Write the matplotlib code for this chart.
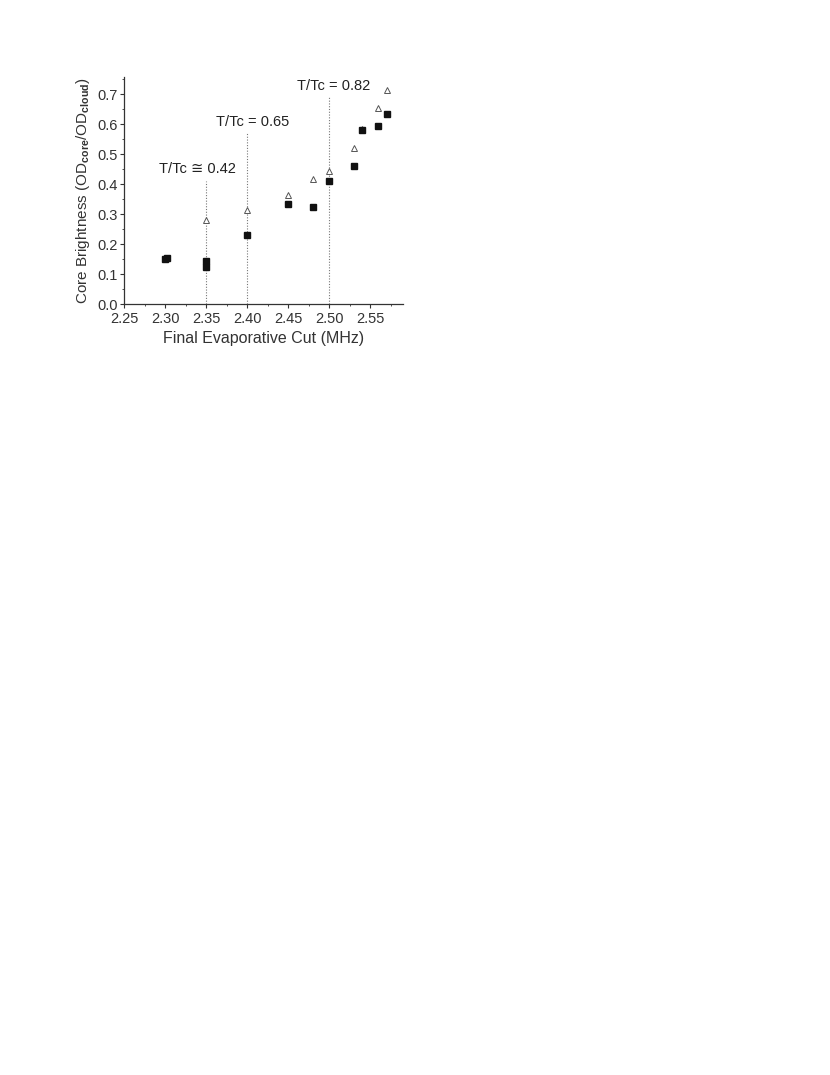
import matplotlib
matplotlib.use("Agg")
import matplotlib.pyplot as plt
from matplotlib.ticker import MultipleLocator

plt.rcParams['font.family'] = ['Liberation Sans', 'DejaVu Sans']
plt.rcParams['mathtext.fontset'] = 'custom'
plt.rcParams['mathtext.rm'] = 'Liberation Sans'
plt.rcParams['mathtext.bf'] = 'Liberation Sans:bold'

# filled squares
sq_x = [2.300, 2.302, 2.350, 2.350, 2.400, 2.450, 2.480, 2.500, 2.530, 2.540, 2.560, 2.570]
sq_y = [0.150, 0.155, 0.145, 0.125, 0.230, 0.333, 0.323, 0.410, 0.460, 0.580, 0.595, 0.632]

# open triangles
tri_x = [2.350, 2.400, 2.450, 2.480, 2.500, 2.530, 2.540, 2.560, 2.570]
tri_y = [0.280, 0.315, 0.365, 0.418, 0.443, 0.520, 0.582, 0.655, 0.715]

# dotted markers with temperature labels
mark_x = [2.35, 2.40, 2.50]
mark_top = [0.41, 0.57, 0.69]
mark_text = ["T/Tc \u2245 0.42", "T/Tc = 0.65", "T/Tc = 0.82"]
text_pos = [(2.339, 0.45), (2.407, 0.607), (2.505, 0.727)]

fig = plt.figure(figsize=(8.3, 10.75), dpi=100)
ax = fig.add_axes([0.1494, 0.7172, 0.3361, 0.2112])

for x, top in zip(mark_x, mark_top):
    ax.plot([x, x], [0, top], color='#777777', lw=0.8, ls=(0, (1, 1.5)), zorder=1)
for (tx, ty), s in zip(text_pos, mark_text):
    ax.text(tx, ty, s, ha='center', va='center', fontsize=10.5, color='#222222')

ax.plot(tri_x, tri_y, ls='none', marker='^', ms=5, mfc='white', mec='#555555', mew=0.7, zorder=2)
ax.plot(sq_x, sq_y, ls='none', marker='s', ms=4.3, mfc='#111111', mec='#111111', zorder=3)

ax.set_xlim(2.25, 2.59)
ax.set_ylim(0, 0.757)
ax.xaxis.set_major_locator(MultipleLocator(0.05))
ax.xaxis.set_minor_locator(MultipleLocator(0.025))
ax.yaxis.set_major_locator(MultipleLocator(0.1))
ax.yaxis.set_minor_locator(MultipleLocator(0.05))
ax.xaxis.set_major_formatter(matplotlib.ticker.FormatStrFormatter('%.2f'))
ax.yaxis.set_major_formatter(matplotlib.ticker.FormatStrFormatter('%.1f'))

for s in ['top', 'right']:
    ax.spines[s].set_visible(False)
for s in ['left', 'bottom']:
    ax.spines[s].set_color('#333333')
    ax.spines[s].set_linewidth(0.9)

ax.tick_params(which='major', direction='out', length=3, width=0.8, color='#333333',
               labelsize=10.5, labelcolor='#333333', pad=1.5)
ax.tick_params(axis='x', which='major', pad=2.5)
ax.tick_params(which='minor', direction='out', length=1.5, width=0.6, color='#333333')

ax.set_xlabel('Final Evaporative Cut (MHz)', fontsize=11.5, color='#333333', labelpad=4)
ax.set_ylabel(r'Core Brightness (OD$_{\mathbf{core}}$/OD$_{\mathbf{cloud}}$)',
              fontsize=11, color='#333333', labelpad=4)

fig.savefig('out.png', dpi=100)
